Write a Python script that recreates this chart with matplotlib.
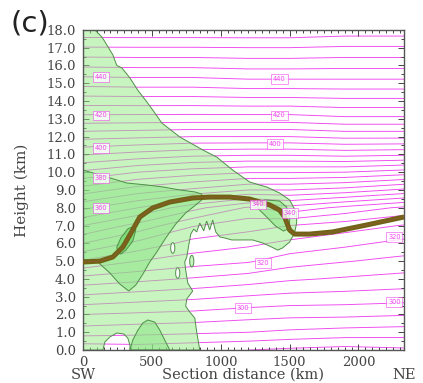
import numpy as np
import matplotlib
matplotlib.use("Agg")
import matplotlib.pyplot as plt
from matplotlib.patches import Polygon, Ellipse
from matplotlib.ticker import MultipleLocator, FormatStrFormatter

# ── potential temperature (K) on the section: columns at dist_km, rows at height_km
dist_km = [0, 400, 800, 1200, 1500, 1900, 2330]
height_km = list(range(0, 19))
theta_0000 = [281, 292.3, 300, 309.1, 318.2, 329.4, 340, 350, 361.1, 372.6, 384.0, 395.4, 406.7, 417.8, 427.4, 436.7, 445.8, 454.7, 464.0]
theta_0400 = [282, 291.5, 299.2, 307.5, 316.4, 325, 333.6, 343.3, 355, 367.5, 380, 393.3, 405.9, 417.6, 427.6, 437.1, 446.1, 454.8, 464]
theta_0800 = [281, 290.8, 298.5, 306.2, 314.5, 322.4, 328.2, 335.4, 346.7, 364, 377.3, 391.4, 405, 417.5, 427.6, 437.1, 446.1, 454.8, 464]
theta_1200 = [280, 290, 297.1, 304.6, 312.5, 320.6, 326.1, 332.1, 339.3, 360, 375.4, 390.8, 405, 417.5, 428, 438, 446.7, 455, 464]
theta_1500 = [279, 289, 296.4, 303.6, 310.7, 317.3, 323.8, 330, 343.3, 360, 375.4, 390.8, 405, 417.5, 428, 438, 446.7, 455, 464]
theta_1900 = [278, 288, 296.2, 303.1, 309.4, 315.3, 321.3, 327.5, 338.6, 358, 375, 391.7, 406.3, 418.8, 428.6, 438.1, 446.4, 454.4, 463]
theta_2330 = [279, 287.5, 295.4, 302.4, 308.2, 313.5, 318.5, 324.7, 334, 354, 372.7, 390.9, 406.3, 418.8, 428.6, 438.1, 446.4, 454.4, 463]

# isentrope labels
lab_x = [130, 130, 130, 130, 130, 1427, 1427, 1391, 1268, 1500, 1304, 2261, 1159, 2261]
lab_z = [15.35, 13.2, 11.36, 9.67, 7.99, 15.24, 13.2, 11.58, 8.2, 7.7, 4.9, 6.36, 2.36, 2.7]
lab_txt = ["440", "420", "400", "380", "360", "440", "420", "400", "340", "340", "320", "320", "300", "300"]

# thick tropopause line
pv_x = [0, 123, 217, 290, 341, 413, 507, 630, 797, 920, 1065, 1210, 1355, 1427, 1464, 1500, 1536, 1645, 1812, 2058, 2330]
pv_z = [4.95, 5.0, 5.23, 5.79, 6.47, 7.48, 7.99, 8.32, 8.55, 8.6, 8.6, 8.49, 8.16, 7.87, 7.48, 6.75, 6.52, 6.52, 6.64, 7.03, 7.48]

# shaded regions (outlines read off the section); the light region's ground edge
# skirts the clear dome near 150-340 km
light_x = [0, 87, 138, 174, 217, 246, 283, 341, 399, 464, 522, 572, 703, 870, 971, 1087, 1210, 1282, 1333,
           1427, 1500, 1551, 1551, 1536, 1500, 1449, 1413, 1370, 1304, 1232, 1138, 1080, 1029, 993, 964, 942,
           920, 898, 877, 848, 826, 804, 783, 768, 754, 739, 746, 761, 797, 754, 746, 775, 812, 826, 848,
           341, 341, 326, 297, 246, 195, 159, 145, 0]
light_z = [18, 18, 17.6, 17.15, 16.6, 16.0, 15.86, 15.3, 14.6, 13.95, 13.33, 12.77, 11.98, 11.25, 10.85, 10.12,
           9.45, 9.28, 9.17, 8.83, 8.44, 7.71, 7.14, 6.58, 6.07, 5.74, 5.62, 5.79, 6.02, 6.19, 6.19, 6.19, 6.3,
           6.36, 6.64, 7.31, 6.75, 7.25, 6.7, 7.14, 6.64, 6.8, 6.52, 5.9, 5.23, 4.95, 4.5, 3.77, 3.32, 2.87,
           2.47, 2.14, 1.8, 1.01, 0,
           0, 0.28, 0.67, 0.9, 0.96, 0.73, 0.45, 0, 0]
mid_x = [0, 174, 319, 464, 580, 703, 812, 862, 870, 819, 746, 674, 601, 536, 485, 435, 384, 333, 268, 196, 101, 0]
mid_z = [10.12, 9.73, 9.39, 9.28, 9.17, 9.0, 8.89, 8.77, 8.49, 8.16, 7.71, 7.09, 6.3, 5.51, 4.95, 4.27, 3.66,
         3.32, 3.71, 4.33, 5.0, 5.1]
bulge_x = [1261, 1319, 1427, 1478, 1500, 1500, 1456, 1398, 1326, 1275]
bulge_z = [8.27, 8.44, 8.38, 8.04, 7.42, 6.86, 6.69, 6.97, 7.54, 7.93]
spot_x = [254, 246, 275, 326, 369, 384, 362, 312, 275]
spot_z = [5.46, 5.79, 6.3, 6.81, 6.97, 6.75, 6.13, 5.62, 5.4]
dome_x = [341, 362, 399, 435, 471, 522, 558, 594, 630]
dome_z = [0, 0.56, 1.12, 1.52, 1.69, 1.57, 1.12, 0.56, 0]
hole_x = [652, 688]
hole_z = [5.74, 4.33]
blob_x = [790]
blob_z = [5.0]

# fills are laid half-transparent over the isentropes, as in the original
LIGHT = "#91eb81"
MID = "#86e482"
DARK = "#58d253"
EDGE = "#4f8f48"
MAGENTA = "#f045f0"
ALPHA = 0.5

fig = plt.figure(figsize=(4.23, 3.83), dpi=100)
ax = fig.add_axes([0.196, 0.086, 0.759, 0.836])

theta = np.column_stack([theta_0000, theta_0400, theta_0800, theta_1200, theta_1500, theta_1900, theta_2330])
ax.contour(dist_km, height_km, theta, levels=np.arange(280, 470, 5),
           colors=MAGENTA, linewidths=0.65, zorder=1)

for xs, zs, fc in [(light_x, light_z, LIGHT), (mid_x, mid_z, MID), (bulge_x, bulge_z, MID),
                   (spot_x, spot_z, DARK), (dome_x, dome_z, MID)]:
    ax.add_patch(Polygon(np.column_stack([xs, zs]), closed=True, fc=fc, alpha=ALPHA, ec="none", zorder=2))
    ax.add_patch(Polygon(np.column_stack([xs, zs]), closed=True, fc="none", ec=EDGE, lw=0.7, zorder=2))
for hx, hz in zip(hole_x, hole_z):
    ax.add_patch(Ellipse((hx, hz), 30, 0.6, fc="white", ec=EDGE, lw=0.7, zorder=2))
for bx, bz in zip(blob_x, blob_z):
    ax.add_patch(Ellipse((bx, bz), 30, 0.65, fc="#c8f5c0", ec=EDGE, lw=0.7, zorder=2))

ax.plot(pv_x, pv_z, color="#706316", lw=3.6, solid_capstyle="butt", zorder=3)
ax.plot(pv_x, pv_z, color="#9a5a3a", lw=0.8, alpha=0.6, zorder=3)

for x, z, t in zip(lab_x, lab_z, lab_txt):
    ax.text(x, z, t, fontsize=4.8, color=MAGENTA, ha="center", va="center", zorder=4,
            bbox=dict(boxstyle="square,pad=0.25", fc="white", ec=MAGENTA, lw=0.5, alpha=0.8))

ax.set_xlim(0, 2330)
ax.set_ylim(0, 18)
ax.set_xticks([0, 500, 1000, 1500, 2000])
ax.xaxis.set_minor_locator(MultipleLocator(50))
ax.yaxis.set_major_locator(MultipleLocator(1))
ax.yaxis.set_minor_locator(MultipleLocator(0.5))
ax.yaxis.set_major_formatter(FormatStrFormatter("%.1f"))
ax.tick_params(which="both", direction="in", top=True, right=True, colors="#444444",
               labelsize=9.5, width=0.7)
ax.tick_params(which="major", length=4)
ax.tick_params(which="minor", length=2)
ax.tick_params(axis="y", pad=5)
ax.tick_params(axis="x", pad=4)
for lab in ax.get_xticklabels() + ax.get_yticklabels():
    lab.set_family("DejaVu Serif")
for sp in ax.spines.values():
    sp.set_color("#555555")
    sp.set_linewidth(1.0)

tr = ax.get_xaxis_transform()
ax.text(0, -0.077, "SW", transform=tr, ha="center", va="center", fontsize=10.5, family="DejaVu Serif", color="#444444")
ax.text(2330, -0.077, "NE", transform=tr, ha="center", va="center", fontsize=10.5, family="DejaVu Serif", color="#444444")
ax.text(0.5, -0.077, "Section distance (km)", transform=ax.transAxes, ha="center", va="center",
        fontsize=10.5, family="DejaVu Serif", color="#444444")
fig.text(0.052, 0.504, "Height (km)", rotation=90, ha="center", va="center",
         fontsize=11, family="DejaVu Serif", color="#444444")
fig.text(0.025, 0.975, "(c)", ha="left", va="top", fontsize=21, family="DejaVu Sans", color="#222222")

fig.savefig("out.png", dpi=100)
